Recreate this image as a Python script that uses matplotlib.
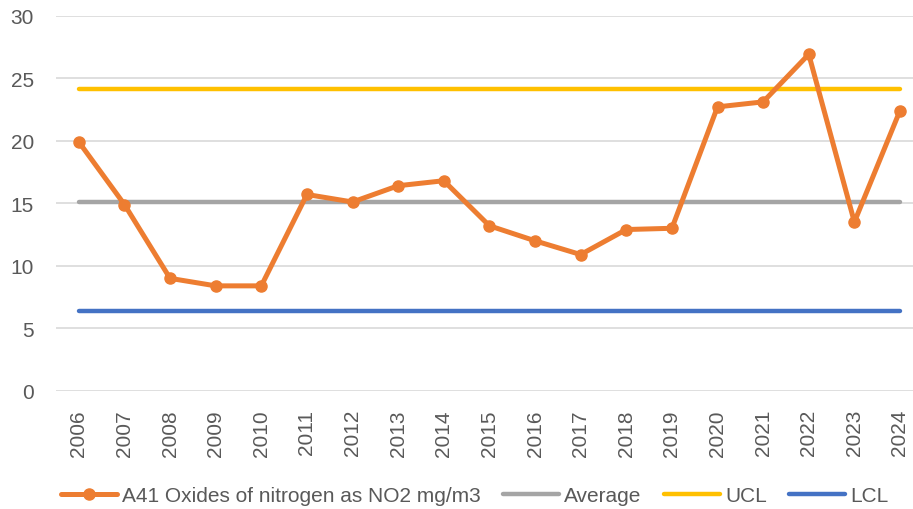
import numpy as np
import matplotlib
matplotlib.use("Agg")
import matplotlib.pyplot as plt

years = [str(y) for y in range(2006, 2025)]
nox = [19.9, 14.9, 9.0, 8.4, 8.4, 15.7, 15.1, 16.4, 16.8, 13.2,
       12.0, 10.9, 12.9, 13.0, 22.7, 23.1, 26.9, 13.5, 22.4]
avg_value = 15.1
ucl_value = 24.1
lcl_value = 6.4

average = [avg_value] * len(years)
ucl = [ucl_value] * len(years)
lcl = [lcl_value] * len(years)

plt.rcParams["font.family"] = ["Liberation Sans", "DejaVu Sans"]
TEXT = "#595959"

W, H = 913, 510
fig = plt.figure(figsize=(W / 100, H / 100), dpi=100)
ax = fig.add_axes([56 / W, (H - 392) / H, (W - 56) / W, (392 - 16.5) / H])

x = np.arange(len(years))
ax.plot(x, nox, color="#ED7D31", lw=3.6, marker="o", ms=8,
        solid_capstyle="round", zorder=4,
        label="A41 Oxides of nitrogen as NO2 mg/m3")
ax.plot(x, average, color="#A5A5A5", lw=3.2, solid_capstyle="round",
        zorder=3, label="Average")
ax.plot(x, ucl, color="#FFC000", lw=3.2, solid_capstyle="round",
        zorder=3, label="UCL")
ax.plot(x, lcl, color="#4472C4", lw=3.2, solid_capstyle="round",
        zorder=3, label="LCL")

ax.set_xlim(-0.5, 18.285)
ax.set_ylim(0, 30)
ax.set_yticks(range(0, 31, 5))
ax.set_xticks(x)
ax.set_xticklabels(years, rotation=90)
ax.grid(axis="y", color="#D9D9D9", lw=1.2, zorder=0)
ax.set_axisbelow(True)
for s in ax.spines.values():
    s.set_visible(False)
ax.tick_params(axis="y", length=0, pad=16, labelsize=15, labelcolor=TEXT)
ax.tick_params(axis="x", length=0, pad=13, labelsize=15, labelcolor=TEXT)
ax.set_clip_on(False)

leg = fig.legend(loc="center", bbox_to_anchor=(474.5 / W, 13 / H),
                 ncol=4, frameon=False, fontsize=15, handlelength=2.7,
                 handletextpad=0.25, columnspacing=1.05, borderaxespad=0)
for t in leg.get_texts():
    t.set_color(TEXT)

fig.savefig("out.png", dpi=100)
